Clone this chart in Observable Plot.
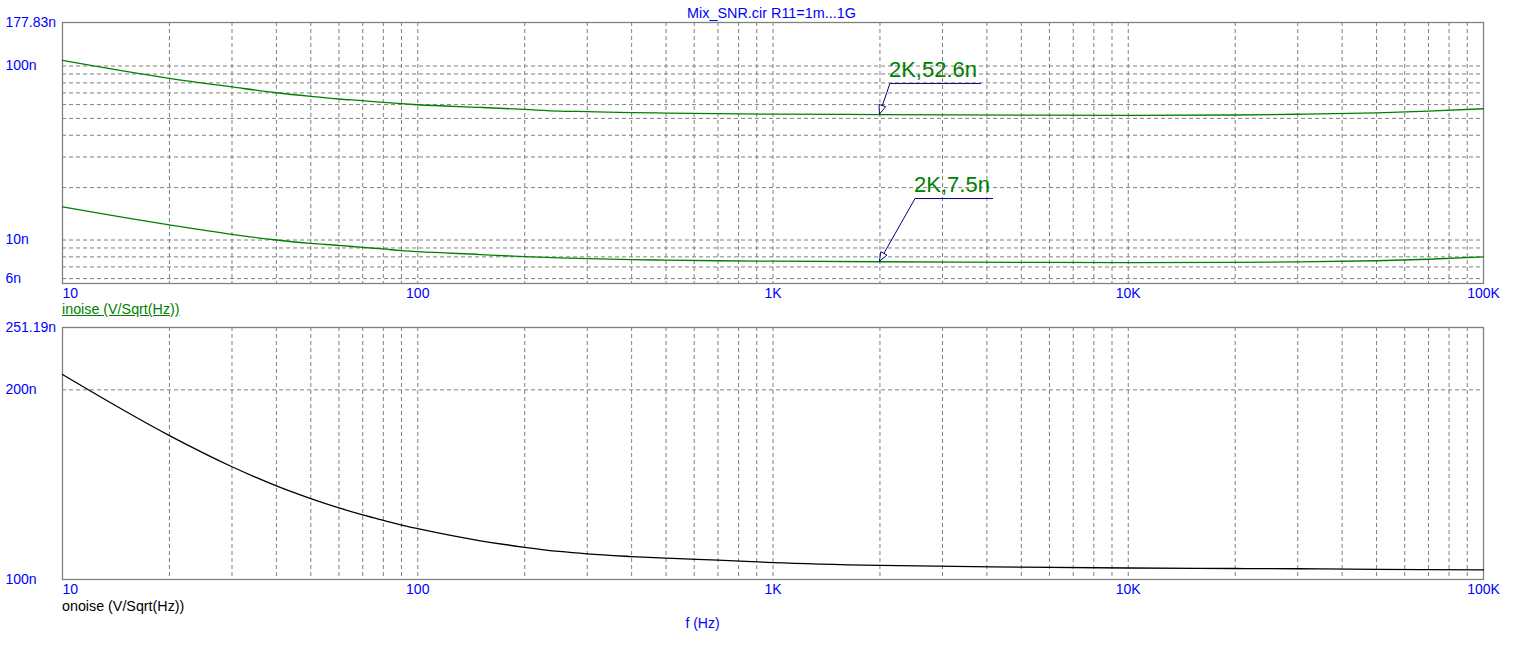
<!DOCTYPE html>
<html><head><meta charset="utf-8">
<script src="https://cdn.jsdelivr.net/npm/d3@7"></script>
<script src="https://cdn.jsdelivr.net/npm/@observablehq/plot@0.6"></script>
<style>
body{margin:0;background:#fff;font-family:"Liberation Sans",Arial,sans-serif;}
#wrap{position:relative;width:1523px;height:645px;overflow:hidden;background:#fff;}
.lbl{position:absolute;font-size:14px;line-height:16px;white-space:nowrap;}
#wrap svg{position:absolute;left:0;}
</style></head><body>
<div id="wrap">
  <div class="lbl" style="left:771.5px;transform:translateX(-50%);top:5px;color:#0000ff;font-size:14.4px">Mix_SNR.cir R11=1m...1G</div>
  <div class="lbl" style="left:62px;top:301px;color:#008000;text-decoration:underline;font-size:14.3px">inoise (V/Sqrt(Hz))</div>
  <div class="lbl" style="left:62px;top:598px;color:#000;font-size:14.3px">onoise (V/Sqrt(Hz))</div>
  <div class="lbl" style="left:702.5px;transform:translateX(-50%);top:615px;color:#0000ff">f (Hz)</div>
</div>
<script>
// ---- data (values in nV/sqrt(Hz)) ----
const freqs      = [10,20,30,40,50,60,70,80,90,100,150,200,250,300,400,500,700,1000,2000,5000,10000,20000,30000,50000,70000,100000];
const inoiseHigh = [107.7,84.9,75.8,70.2,66.9,64.6,63.2,61.8,60.7,59.9,57.8,56.3,55.1,54.7,54.0,53.6,53.2,52.9,52.6,52.2,52.0,52.3,52.8,53.8,55.0,56.8];
const inoiseLow  = [15.5,12.2,10.77,10.0,9.56,9.31,9.07,8.88,8.68,8.57,8.25,8.02,7.9,7.82,7.72,7.66,7.60,7.56,7.50,7.44,7.41,7.43,7.48,7.60,7.75,8.0];
const onoise     = [211.5,169.2,151.0,140.8,134.4,129.9,126.6,124.1,122.0,120.4,115.2,112.5,110.8,109.8,108.75,108.1,107.3,106.4,105.3,104.6,104.3,104.1,104.0,103.8,103.7,103.6];

const xTickValues = [10,100,1000,10000,100000];
const xTickLabels = ["10","100","1K","10K","100K"];
const topYTickValues = [177.83,100,10,6];
const topYTickLabels = ["177.83n","100n","10n","6n"];
const botYTickValues = [251.19,200,100];
const botYTickLabels = ["251.19n","200n","100n"];
const topYGrid = [6,7,8,9,10,20,30,40,50,60,70,80,90,100];
const botYGrid = [200];

const markerFreqs  = [2000,2000];
const markerValues = [52.6,7.5];
const markerLabels = ["2K,52.6n","2K,7.5n"];

// vertical grid at every 1..9 multiple within the decades
const xGrid = [];
for (let d = 10; d < 100000; d *= 10) for (let m = 1; m <= 9; m++) if (d*m > 10) xGrid.push(d*m);

const FONT = '"Liberation Sans", Arial, sans-serif';
const BLUE = "#0000ff", GRID = "#808080";

const toRows = arr => freqs.map((f,i) => ({f, v: arr[i]}));

function xTickMarks() {
  const first = [{v: xTickValues[0], t: xTickLabels[0]}];
  const rest = xTickValues.slice(1).map((v,i) => ({v, t: xTickLabels[i+1]}));
  return [
    Plot.text(first, {x:"v", text:"t", frameAnchor:"bottom", lineAnchor:"top", dy:5, textAnchor:"start", fill:BLUE, fontSize:14, fontFamily:FONT}),
    Plot.text(rest, {x:"v", text:"t", frameAnchor:"bottom", lineAnchor:"top", dy:5, textAnchor:"middle", fill:BLUE, fontSize:14, fontFamily:FONT})
  ];
}
function yTickMarks(vals, labels) {
  const rows = vals.map((v,i) => ({v, t: labels[i]}));
  return Plot.text(rows, {y:"v", text:"t", frameAnchor:"left", textAnchor:"start", dx:-57, fill:BLUE, fontSize:14, fontFamily:FONT});
}

// marker annotation: leader line with open arrowhead, label above the knee
function marker(i, kx, ky, len) {
  return (index, scales) => {
    const px = scales.x(markerFreqs[i]), py = scales.y(markerValues[i]);
    const qx = px + kx, qy = py + ky;
    const g = d3.create("svg:g");
    g.append("path").attr("d", `M${qx+len},${qy}H${qx}L${px},${py}`)
      .attr("fill","none").attr("stroke","#000080").attr("stroke-width",1);
    const ang = Math.atan2(py-qy, px-qx);
    const L = 9, W = 3.5;
    const bx = px - L*Math.cos(ang), by = py - L*Math.sin(ang);
    const nx = -Math.sin(ang)*W, ny = Math.cos(ang)*W;
    g.append("path").attr("d", `M${px},${py}L${bx+nx},${by+ny}L${bx-nx},${by-ny}Z`)
      .attr("fill","white").attr("stroke","#000080").attr("stroke-width",1);
    g.append("text").attr("x", qx-1).attr("y", qy-6.3)
      .attr("text-anchor","start")
      .attr("font-family", FONT).attr("font-size", 22).attr("fill","#008000")
      .text(markerLabels[i]);
    return g.node();
  };
}

const common = {
  width: 1523, height: 300, marginLeft: 62, marginRight: 40,
  style: {background:"none", overflow:"visible", fontFamily: FONT}
};

const topPlot = Plot.plot({
  ...common,
  marginTop: 22, marginBottom: 17,
  x: {type:"log", domain:[10,100000], axis:null},
  y: {type:"log", domain:[Math.pow(10,0.75), Math.pow(10,2.25)], axis:null},
  marks: [
    Plot.ruleX(xGrid, {stroke:GRID, strokeDasharray:"4,3", strokeWidth:1}),
    Plot.ruleY(topYGrid, {stroke:GRID, strokeDasharray:"4,3", strokeWidth:1}),
    Plot.frame({stroke:GRID, strokeWidth:1.3}),
    Plot.line(toRows(inoiseHigh), {x:"f", y:"v", stroke:"#008000", strokeWidth:1.3, curve:"monotone-x"}),
    Plot.line(toRows(inoiseLow), {x:"f", y:"v", stroke:"#008000", strokeWidth:1.3, curve:"monotone-x"}),
    ...xTickMarks(),
    yTickMarks(topYTickValues, topYTickLabels),
    marker(0, 10.5, -30.6, 91),
    marker(1, 35.6, -62.7, 78)
  ]
});

const botPlot = Plot.plot({
  ...common,
  marginTop: 27, marginBottom: 21,
  x: {type:"log", domain:[10,100000], axis:null},
  y: {type:"log", domain:[100, Math.pow(10,2.4)], axis:null},
  marks: [
    Plot.ruleX(xGrid, {stroke:GRID, strokeDasharray:"4,3", strokeWidth:1}),
    Plot.ruleY(botYGrid, {stroke:GRID, strokeDasharray:"4,3", strokeWidth:1}),
    Plot.frame({stroke:GRID, strokeWidth:1.3}),
    Plot.line(toRows(onoise), {x:"f", y:"v", stroke:"#000", strokeWidth:1.3, curve:"monotone-x"}),
    ...xTickMarks(),
    yTickMarks(botYTickValues, botYTickLabels)
  ]
});

topPlot.style.top = "0px";
botPlot.style.top = "300px";
const wrap = document.getElementById("wrap");
wrap.insertBefore(botPlot, wrap.firstChild);
wrap.insertBefore(topPlot, wrap.firstChild);
</script>
</body></html>
